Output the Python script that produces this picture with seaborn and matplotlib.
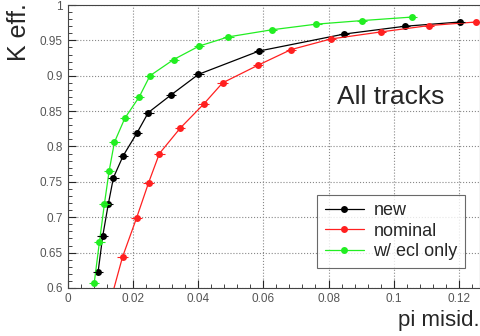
import seaborn as sns
import matplotlib.pyplot as plt
import matplotlib.ticker as mticker
import pandas as pd

# Datos
new_x = [0.0093, 0.0107, 0.0124, 0.0140, 0.0170, 0.0212, 0.0247, 0.0317, 0.0401, 0.0587, 0.0848, 0.1034, 0.1203]
new_y = [0.623, 0.673, 0.718, 0.756, 0.787, 0.819, 0.848, 0.873, 0.902, 0.935, 0.959, 0.970, 0.976]

nominal_x = [0.0130, 0.0168, 0.0211, 0.0248, 0.0281, 0.0345, 0.0417, 0.0475, 0.0584, 0.0685, 0.0807, 0.0961, 0.1109, 0.1252]
nominal_y = [0.580, 0.644, 0.699, 0.749, 0.790, 0.826, 0.860, 0.890, 0.915, 0.937, 0.952, 0.962, 0.971, 0.976]

ecl_x = [0.0081, 0.0097, 0.0112, 0.0127, 0.0143, 0.0175, 0.0219, 0.0252, 0.0325, 0.0403, 0.0493, 0.0626, 0.0763, 0.0902, 0.1056]
ecl_y = [0.607, 0.665, 0.718, 0.766, 0.806, 0.840, 0.870, 0.900, 0.923, 0.942, 0.955, 0.965, 0.973, 0.978, 0.983]

series_names = ["new", "nominal", "w/ ecl only"]
colores = {"new": "black", "nominal": "#ff2020", "w/ ecl only": "#22ee22"}

df = pd.concat([
    pd.DataFrame({"x": new_x, "y": new_y, "serie": "new"}),
    pd.DataFrame({"x": nominal_x, "y": nominal_y, "serie": "nominal"}),
    pd.DataFrame({"x": ecl_x, "y": ecl_y, "serie": "w/ ecl only"}),
], ignore_index=True)

sns.set_style("ticks")
plt.rcParams['font.family'] = ['Liberation Sans', 'DejaVu Sans']

fig = plt.figure(figsize=(4.81, 3.36), dpi=100)
ax = fig.add_axes([0.141, 0.143, 0.857, 0.842])

sns.lineplot(data=df, x="x", y="y", hue="serie", hue_order=series_names, palette=colores,
             sort=False, estimator=None, marker="o", markersize=5, markeredgewidth=0,
             linewidth=0.9, ax=ax)

# barras de error horizontales
for nombre in series_names:
    sub = df[df["serie"] == nombre]
    ax.errorbar(sub["x"], sub["y"], xerr=0.0016, fmt="none", ecolor=colores[nombre],
                elinewidth=0.8, capsize=0)

ax.set_xlim(0, 0.1265)
ax.set_ylim(0.6, 1.0)
ax.xaxis.set_major_locator(mticker.MultipleLocator(0.02))
ax.xaxis.set_minor_locator(mticker.MultipleLocator(0.004))
ax.yaxis.set_major_locator(mticker.MultipleLocator(0.05))
ax.yaxis.set_minor_locator(mticker.MultipleLocator(0.01))
ax.xaxis.set_major_formatter(mticker.FuncFormatter(lambda v, p: f"{v:g}"))
ax.yaxis.set_major_formatter(mticker.FuncFormatter(lambda v, p: f"{v:g}"))
ax.tick_params(which="both", direction="in", top=False, right=False, labelsize=8.5, labelcolor="#555555")
ax.tick_params(which="major", length=6)
ax.tick_params(which="minor", length=3)
ax.grid(True, which="major", linestyle=":", color="#888888", linewidth=0.8)
for s in ax.spines.values():
    s.set_color("#444444")

ax.set_xlabel("")
ax.set_ylabel("")
fig.text(0.998, 0.015, "pi misid.", ha="right", va="bottom", fontsize=16)
fig.text(0.015, 0.99, "K eff.", ha="left", va="top", rotation=90, fontsize=18)
ax.text(0.099, 0.870, "All tracks", ha="center", va="center", fontsize=19)

leg = ax.legend(loc="lower right", bbox_to_anchor=(0.985, 0.04), fontsize=13, frameon=True,
                fancybox=False, edgecolor="#444444", handlelength=2.2, borderpad=0.4,
                labelspacing=0.2, handletextpad=0.5)
leg.get_frame().set_linewidth(0.8)

fig.savefig("out.png", dpi=100)
